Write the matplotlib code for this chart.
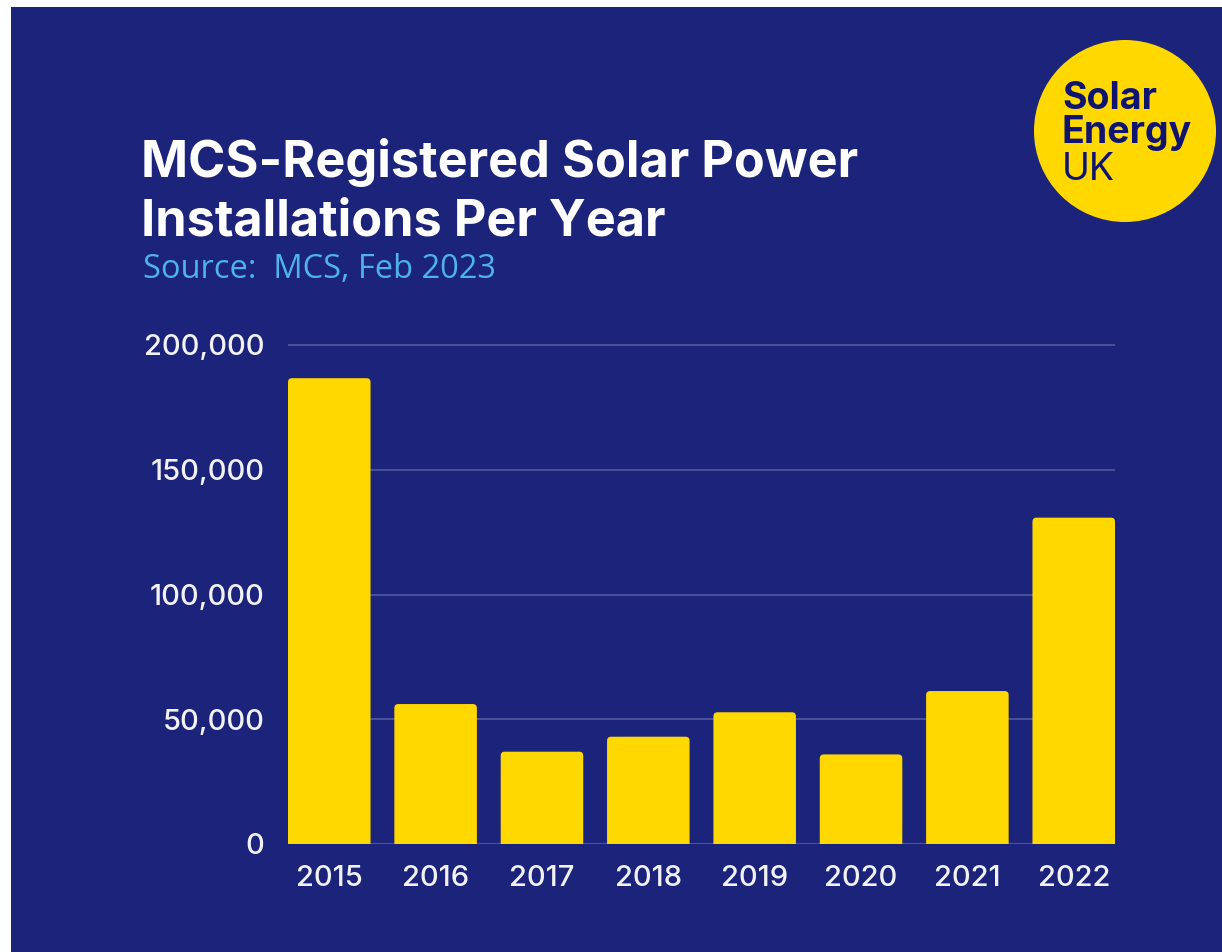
import matplotlib

matplotlib.use("Agg")
import matplotlib.pyplot as plt
from matplotlib.patches import Ellipse, FancyBboxPatch, Rectangle
from matplotlib.ticker import FuncFormatter

# data
years = ["2015", "2016", "2017", "2018", "2019", "2020", "2021", "2022"]
installations = [186700, 56100, 37000, 43000, 52800, 35900, 61300, 130800]
y_ticks = [0, 50000, 100000, 150000, 200000]

NAVY = "#1b237a"
YELLOW = "#ffd800"
GRID = "#4b5197"
LOGO_TEXT = "#0e1470"
SOURCE_BLUE = "#4db3ea"

W, H = 1222, 952


def fx(px):
    return px / W


def fy(py):
    return 1 - py / H


fig = plt.figure(figsize=(W / 100, H / 100), dpi=100, facecolor="white")

# navy panel behind everything
fig.patches.append(Rectangle((fx(11), 0), 1 - fx(11), fy(7), transform=fig.transFigure,
                             facecolor=NAVY, edgecolor="none", zorder=-10))

# chart area
y0_px, y200_px = 844, 345
px_per_unit = (y0_px - y200_px) / 200000
ytop = 203000
ax_top_px = y0_px - ytop * px_per_unit
ax = fig.add_axes([fx(288), fy(y0_px), fx(1115) - fx(288), (y0_px - ax_top_px) / H])
ax.set_facecolor("none")
ax.set_zorder(2)

x = list(range(len(years)))
xlim = (-0.388, len(years) - 1 + 0.388)
bars = ax.bar(x, installations, width=0.776, color=YELLOW, zorder=3)

# swap the plain bars for ones with slightly rounded tops
px_per_x = (1115 - 288) / (xlim[1] - xlim[0])
radius_px = 4
r_x = radius_px / px_per_x
r_y = radius_px / px_per_unit
for b in bars:
    bx, bw, bh = b.get_x(), b.get_width(), b.get_height()
    ax.add_patch(FancyBboxPatch((bx, -2 * r_y), bw, bh + 2 * r_y,
                                boxstyle=f"round,pad=0,rounding_size={r_x}",
                                mutation_aspect=r_y / r_x,
                                facecolor=YELLOW, edgecolor="none", zorder=3))
    b.set_visible(False)

ax.set_xlim(*xlim)
ax.set_ylim(0, ytop)
ax.set_yticks(y_ticks)
ax.yaxis.set_major_formatter(FuncFormatter(lambda v, _: f"{int(v):,}"))
ax.set_xticks(x)
ax.set_xticklabels(years)
ax.grid(axis="y", color=GRID, linewidth=1.4, zorder=1)
ax.axhline(0, color=GRID, linewidth=1.6, zorder=2)
for s in ax.spines.values():
    s.set_visible(False)
ax.tick_params(axis="both", length=0, colors="#f2f2f6", labelsize=21)
ax.tick_params(axis="y", pad=17)
ax.tick_params(axis="x", pad=15)
for lbl in ax.get_xticklabels() + ax.get_yticklabels():
    lbl.set_fontfamily("Inter")
    lbl.set_fontweight("medium")

# titles
fig.text(fx(141), fy(177), "MCS-Registered Solar Power", color="white", fontsize=36.3,
         fontweight="bold", family="Inter", va="baseline", ha="left")
fig.text(fx(141), fy(235), "Installations Per Year", color="white", fontsize=36.3,
         fontweight="bold", family="Inter", va="baseline", ha="left")
fig.text(fx(143), fy(278), "Source:  MCS, Feb 2023", color=SOURCE_BLUE, fontsize=23.5,
         family="Open Sans", va="baseline", ha="left")

# logo
fig.patches.append(Ellipse((fx(1125), fy(131)), 182 / W, 182 / H, transform=fig.transFigure,
                           facecolor=YELLOW, edgecolor="none", zorder=1))
fig.text(fx(1062), fy(109), "Solar", color=LOGO_TEXT, fontsize=27, fontweight="bold",
         family="Inter", va="baseline")
fig.text(fx(1062), fy(143), "Energy", color=LOGO_TEXT, fontsize=27, fontweight="bold",
         family="Inter", va="baseline")
fig.text(fx(1062), fy(180), "UK", color=LOGO_TEXT, fontsize=27, family="Inter",
         va="baseline")

fig.savefig("out.png", dpi=100, facecolor="white")
